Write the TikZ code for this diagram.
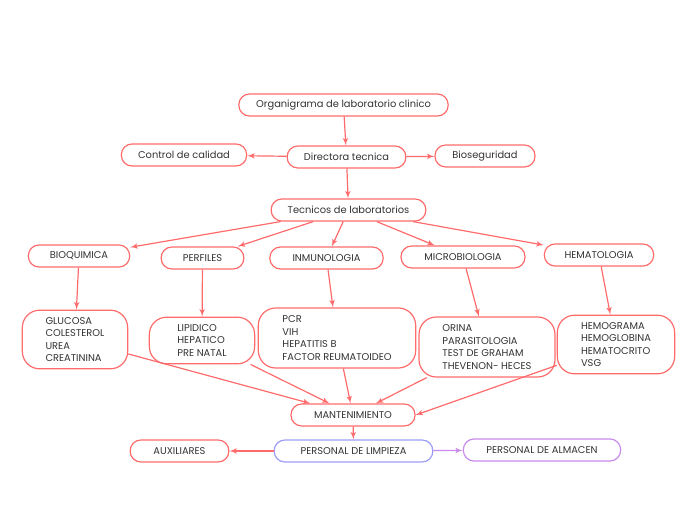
\documentclass[tikz,border=0pt]{standalone}
\usepackage{fontspec}
\setmainfont{Poppins}
\usetikzlibrary{arrows, shapes, positioning}
\definecolor{rojo}{HTML}{FF6B6B}
\definecolor{azul}{HTML}{9C9CF7}
\definecolor{lila}{HTML}{C98AEB}
\begin{document}
\begin{tikzpicture}[x=0.75pt,y=-0.75pt,>=latex',font=\fontsize{7.4}{9.4}\selectfont]
        \tikzstyle{caja} = [draw=rojo, shape=rectangle, rounded corners=8pt, minimum height=16.5pt, line width=0.9pt, text=black!80, inner sep=2pt]
        \tikzstyle{lista} = [caja, rounded corners=13pt, align=left]
        \useasboundingbox (0,0) rectangle (697,520);
        %Creating Blocks
        \node [caja, minimum width=157pt] at (343.5,105) (organigrama) {Organigrama de laboratorio clinico};
        \node [caja, minimum width=89pt] at (346.5,157) (directora) {Directora tecnica};
        \node [caja, minimum width=94pt] at (184,155) (control) {Control de calidad};
        \node [caja, minimum width=75pt] at (485,156) (bioseg) {Bioseguridad};
        \node [caja, minimum width=116pt] at (348.5,210) (tecnicos) {Tecnicos de laboratorios};
        % areas
        \node [caja, minimum width=76pt] at (79,256) (bioquimica) {BIOQUIMICA};
        \node [caja, minimum width=62pt] at (202.5,258) (perfiles) {PERFILES};
        \node [caja, minimum width=85pt] at (326.5,258) (inmuno) {INMUNOLOGIA};
        \node [caja, minimum width=93pt] at (463,257) (micro) {MICROBIOLOGIA};
        \node [caja, minimum width=82pt] at (599,255) (hemato) {HEMATOLOGIA};
        % pruebas
        \node [lista, minimum width=79pt, minimum height=44pt] at (75,339.5) (l_bioq) {GLUCOSA\\COLESTEROL\\UREA\\CREATININA};
        \node [lista, minimum width=79pt, minimum height=35pt] at (202,340.5) (l_perf) {LIPIDICO\\HEPATICO\\PRE NATAL};
        \node [lista, minimum width=118pt, minimum height=45pt] at (337,338) (l_inmu) {PCR\\VIH\\HEPATITIS B\\FACTOR REUMATOIDEO};
        \node [lista, minimum width=102pt, minimum height=45pt] at (487,347) (l_micro) {ORINA\\PARASITOLOGIA\\TEST DE GRAHAM\\THEVENON- HECES};
        \node [lista, minimum width=88pt, minimum height=44pt] at (616,344.5) (l_hema) {HEMOGRAMA\\HEMOGLOBINA\\HEMATOCRITO\\VSG};
        % personal
        \node [caja, minimum width=93pt] at (353,415) (mant) {MANTENIMIENTO};
        \node [caja, draw=azul, minimum width=119pt] at (353.5,451) (limpieza) {PERSONAL DE LIMPIEZA};
        \node [caja, minimum width=74pt] at (179.5,451) (aux) {AUXILIARES};
        \node [caja, draw=lila, minimum width=118pt] at (542,450) (almacen) {PERSONAL DE ALMACEN};
        %Connecting Blocks
        \begin{scope}[line width=0.9pt, draw=rojo]
            \draw[->] (organigrama) -- (directora);
            \draw[->] (directora) -- (control);
            \draw[->] (directora) -- (bioseg);
            \draw[->] (directora) -- (tecnicos);
            \draw[->] (tecnicos) -- (bioquimica);
            \draw[->] (tecnicos) -- (perfiles);
            \draw[->] (tecnicos) -- (inmuno);
            \draw[->] (tecnicos) -- (micro);
            \draw[->] (tecnicos) -- (hemato);
            \draw[->] (bioquimica) -- (l_bioq);
            \draw[->] (perfiles) -- (l_perf);
            \draw[->] (inmuno) -- (l_inmu);
            \draw[->] (micro) -- (l_micro);
            \draw[->] (hemato) -- (l_hema);
            \draw[->] (l_bioq) -- (mant);
            \draw[->] (l_perf) -- (mant);
            \draw[->] (l_inmu) -- (mant);
            \draw[->] (l_micro) -- (mant);
            \draw[->] (l_hema) -- (mant.east);
            \draw[->] (mant) -- (limpieza);
            \draw[->] (limpieza) -- (aux);
            \draw[->, draw=lila] (limpieza) -- (almacen);
        \end{scope}
    \end{tikzpicture}
\end{document}
